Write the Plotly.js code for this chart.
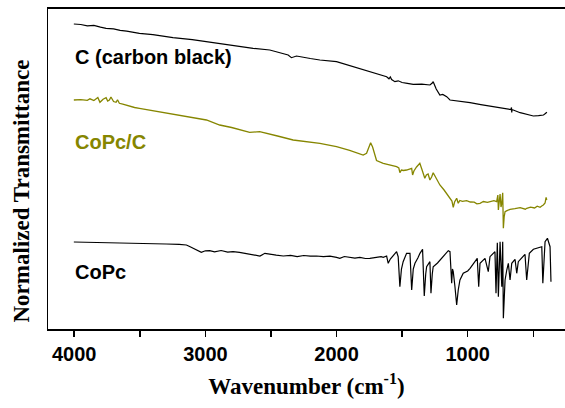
<!DOCTYPE html>
<html>
<head>
<meta charset="utf-8">
<script src="https://cdn.plot.ly/plotly-3.0.1.min.js"></script>
<style>html,body{margin:0;padding:0;background:#fff;}#chart{width:565px;height:408px;}</style>
</head>
<body>
<div id="chart"></div>
<script>
// Wavenumber (cm^-1) and normalized transmittance (arbitrary, offset)
const carbonWn = [4003,3950,3900,3850,3800,3757,3700,3650,3600,3503,3400,3300,3247,3100,2992,2900,2814,2700,2636,2509,2420,2369,2344,2330,2305,2200,2127,2000,1873,1800,1746,1680,1640,1618,1600,1590,1580,1555,1530,1500,1460,1415,1350,1288,1270,1263,1240,1212,1190,1160,1135,1050,982,900,800,700,670,666,664,662,600,550,499,460,422,410,396];
const carbonT = [305,304.5,303.2,303.6,301.8,300.7,300.2,298.6,297.9,295.7,294.4,292.2,291.3,289.4,287.3,285.8,284,282.1,280.7,279,276.2,274,271.3,272.2,273,270.5,269,267.3,262.3,259.6,256.7,254.6,253.1,252.3,250.2,252,249.5,247.3,248.2,246.5,245.6,244.7,244.9,244,246,247.3,240,234,234.5,232.3,229,227.8,226.3,224.4,222.1,220,219.5,221.5,216.5,219.5,216.3,214.6,213,213.4,214,215.2,216.7];

const copcCWn = [4003,3950,3900,3880,3850,3820,3804,3780,3757,3745,3732,3720,3700,3681,3670,3656,3630,3600,3578,3540,3503,3400,3300,3247,3100,2992,2891,2800,2662,2586,2450,2331,2127,2000,1900,1797,1771,1755,1740,1725,1710,1695,1644,1600,1542,1525,1517,1505,1490,1466,1440,1427,1420,1410,1390,1365,1350,1327,1315,1302,1288,1275,1263,1240,1212,1180,1150,1135,1120,1110,1100,1084,1072,1060,1040,1008,980,950,930,906,880,850,820,800,779,770,766,760,753,746,740,733,728,722,715,700,677,640,600,560,550,520,490,470,448,430,423,410,402,397];
const copcCT = [229,229.4,228.6,230.2,228.5,231.5,226.7,229.8,231.3,228,229,232,227.5,226.7,229.2,225.7,224.8,223.6,223.3,221.5,220.7,218.4,216.2,214.7,211.5,209,204,201.5,196.7,197.3,193,189,185.7,182.3,178.6,174,175.7,181,186.3,182,174,168.5,165.7,164.5,162.3,161,156.3,159,158.5,159,160,160.7,154,158,162,165.7,160,150.7,154,155,149,152,156.3,150,144,139,134,130.7,128,121.7,127,130.7,125.7,128.5,127.6,128.3,127,126.8,125.2,125.7,127.5,126.6,127.9,128.4,127.3,134,119,130,135,122,125.7,136.3,100.7,112,117.3,118.4,119.7,120.3,121.4,119.8,120.7,121.9,121,122.8,121.7,123.5,124,126,131.7,129];

const copcWn = [4003,3900,3800,3700,3600,3500,3425,3300,3200,3145,3120,3095,3060,3031,3000,2967,2930,2880,2830,2789,2740,2700,2660,2620,2584,2546,2500,2460,2406,2350,2300,2250,2200,2153,2100,2050,2000,1975,1940,1900,1860,1822,1780,1746,1700,1660,1644,1618,1606,1590,1542,1530,1517,1505,1492,1466,1440,1427,1415,1402,1380,1364,1344,1331,1320,1313,1288,1280,1270,1263,1230,1186,1148,1135,1122,1116,1110,1097,1084,1072,1059,1034,1000,982,957,927,916,906,868,843,830,792,784,774,766,753,740,733,728,715,702,690,677,664,639,626,614,590,563,550,530,499,473,435,427,410,392,372,365];
const copcT = [87,86.8,86.2,86.5,85.9,85.8,85.7,85,84.6,84,82.5,80.7,78.5,76.7,78.2,78.3,77.1,78.5,76.8,77.3,76.6,75.5,74.7,73.9,73,75.7,74.5,73.8,73,73.6,72.4,73.5,72.8,73,72.4,72.9,71.6,70.7,72.5,71.4,70.8,71.7,70.5,70.7,71.5,72.3,71.7,73,65.7,70,77.3,72.3,42.3,60,67.3,75.7,75.7,39,60,65.7,71,75.7,79.7,33,55,62.3,67.3,35.7,55,62.3,66,72.3,78.3,77.3,45.7,60,57.3,42.3,24,39,49,55.7,58,60.7,65.7,70.7,42.3,65.7,70.7,57.3,72.3,77.3,35.7,86.3,32.3,87.3,42.3,87.3,10.7,49,59,65.7,49,65.7,69.7,55.7,67.3,71,74.7,49,75.7,79.7,80.7,82.3,45.7,87.3,90.7,82.3,47.3];

const labels = ['C (carbon black)', 'CoPc/C', 'CoPc'];
const labelY = [272, 187.5, 57];
const majorTicks = [4000,3000,2000,1000];
const majorText = ['4000','3000','2000','1000'];
const minorTicks = [3500,2500,1500,500];

const olive = '#868600';
const traces = [
  {x: carbonWn, y: carbonT, mode:'lines', line:{color:'#000', width:1.2}, hoverinfo:'skip'},
  {x: copcCWn, y: copcCT, mode:'lines', line:{color:olive, width:1.3}, hoverinfo:'skip'},
  {x: copcWn, y: copcT, mode:'lines', line:{color:'#000', width:1.2}, hoverinfo:'skip'}
];
const colors = ['#000', olive, '#000'];
const annotations = labels.map((t,i)=>({
  x: 4010, y: labelY[i], xref:'x', yref:'y', text: t, showarrow:false,
  xanchor:'left', yanchor:'middle',
  font:{family:'Liberation Sans, Arial, sans-serif', size:20, weight:'bold', color:colors[i]}
}));
// y-axis title drawn as rotated annotation (sits lower than plot centre in reference)
annotations.push({
  xref:'paper', yref:'paper', x:-0.052, y:0.43, xanchor:'center', yanchor:'middle',
  textangle:-90, showarrow:false, text:'Normalized Transmittance',
  font:{family:'Liberation Serif, Times New Roman, serif', size:23, weight:'bold', color:'#000'}
});

const layout = {
  width:565, height:408,
  margin:{l:48, r:0, t:9, b:79},
  paper_bgcolor:'#fff', plot_bgcolor:'#fff',
  showlegend:false,
  xaxis:{
    range:[4200, 258], tickmode:'array', tickvals:majorTicks, ticktext:majorText,
    ticks:'outside', ticklen:6, tickwidth:1.5, tickcolor:'#000',
    minor:{tickmode:'array', tickvals:minorTicks, ticks:'outside', ticklen:6, tickwidth:1.5, tickcolor:'#000', showgrid:false},
    showline:true, linecolor:'#000', linewidth:1.6, mirror:true,
    showgrid:false, zeroline:false,
    tickfont:{family:'Liberation Sans, Arial, sans-serif', size:20, weight:'bold', color:'#000'},
    title:{text:'Wavenumber (cm<sup>-1</sup>)', standoff:14,
      font:{family:'Liberation Serif, Times New Roman, serif', size:23, weight:'bold', color:'#000'}}
  },
  yaxis:{
    range:[0, 320], showticklabels:false, ticks:'',
    showline:true, linecolor:'#000', linewidth:1.2,
    showgrid:false, zeroline:false
  },
  annotations: annotations
};
Plotly.newPlot('chart', traces, layout, {displayModeBar:false, staticPlot:true});
</script>
</body>
</html>
